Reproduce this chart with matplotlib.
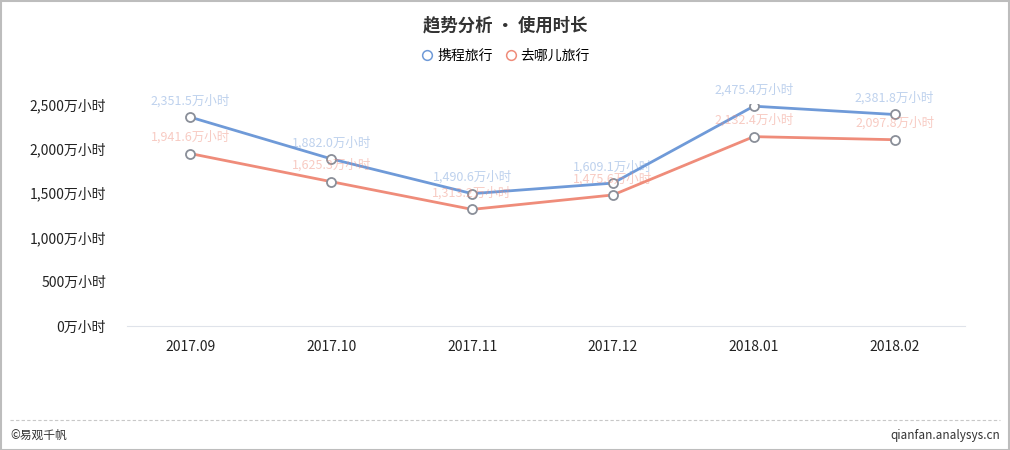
import matplotlib
matplotlib.use("Agg")
import matplotlib.pyplot as plt
from matplotlib.patches import Rectangle
from matplotlib.lines import Line2D

plt.rcParams['font.family'] = ['Noto Sans CJK SC', 'DejaVu Sans']

months = ["2017.09", "2017.10", "2017.11", "2017.12", "2018.01", "2018.02"]
ctrip = [2351.5, 1882.0, 1490.6, 1609.1, 2475.4, 2381.8]
qunar = [1941.6, 1625.3, 1313.2, 1475.6, 2132.4, 2097.8]
yticks = [0, 500, 1000, 1500, 2000, 2500]

BLUE = "#6f9ad8"
RED = "#ef8c7a"

fig = plt.figure(figsize=(10.1, 4.5), dpi=100)
ax = fig.add_axes([120 / 1010, 1 - 326 / 450, 845 / 1010, 222 / 450])

x = list(range(len(months)))
for vals, col, name in [(ctrip, BLUE, "携程旅行"), (qunar, RED, "去哪儿旅行")]:
    ax.plot(x, vals, color=col, lw=2, marker="o", ms=6.5, mfc="white",
            mec="#8a8f99", mew=1.3, label=name, zorder=3)
    for xi, v in zip(x, vals):
        ax.annotate(f"{v:,.1f}万小时", (xi, v), xytext=(0, 7),
                    textcoords="offset points", ha="center", va="bottom",
                    fontsize=9, color=col, alpha=0.45)

ax.set_xlim(-0.5, len(months) - 0.5)
ax.set_ylim(0, 2500)
ax.set_xticks(x)
ax.set_xticklabels(months, fontsize=10, color="#222222")
ax.set_yticks(yticks)
ax.set_yticklabels([f"{v:,}万小时" for v in yticks], fontsize=10, color="#222222")
ax.tick_params(length=0, pad=10)
for s in ["top", "right", "left"]:
    ax.spines[s].set_visible(False)
ax.spines["bottom"].set_color("#dfe3ea")
ax.spines["bottom"].set_bounds(-0.45, len(months) - 0.5)

fig.text(0.5, 1 - 25 / 450, "趋势分析 • 使用时长", ha="center", va="center",
         fontsize=12.5, fontweight="bold", color="#333333")

handles = [Line2D([], [], ls="none", marker="o", ms=7, mfc="white", mec=BLUE, mew=1.1),
           Line2D([], [], ls="none", marker="o", ms=7, mfc="white", mec=RED, mew=1.1)]
fig.legend(handles, ["携程旅行", "去哪儿旅行"], loc="center",
           bbox_to_anchor=(0.5, 1 - 56 / 450), ncol=2, frameon=False,
           fontsize=10, handletextpad=0.2, columnspacing=0.8, handlelength=1.0)

fig.add_artist(Line2D([10 / 1010, 1000 / 1010], [1 - 420 / 450] * 2,
                      transform=fig.transFigure, color="#c8c8c8", lw=0.8, ls=(0, (3, 2))))
fig.text(10 / 1010, 1 - 435 / 450, "©易观千帆", ha="left", va="center",
         fontsize=8.5, color="#333333")
fig.text(1000 / 1010, 1 - 435 / 450, "qianfan.analysys.cn", ha="right", va="center",
         fontsize=8.5, color="#333333")
fig.add_artist(Rectangle((0.5 / 1010, 0.5 / 450), 1 - 1.5 / 1010, 1 - 1.5 / 450,
                         transform=fig.transFigure, fill=False, ec="#bdbdbd", lw=1.5))

fig.savefig("out.png", dpi=100)
